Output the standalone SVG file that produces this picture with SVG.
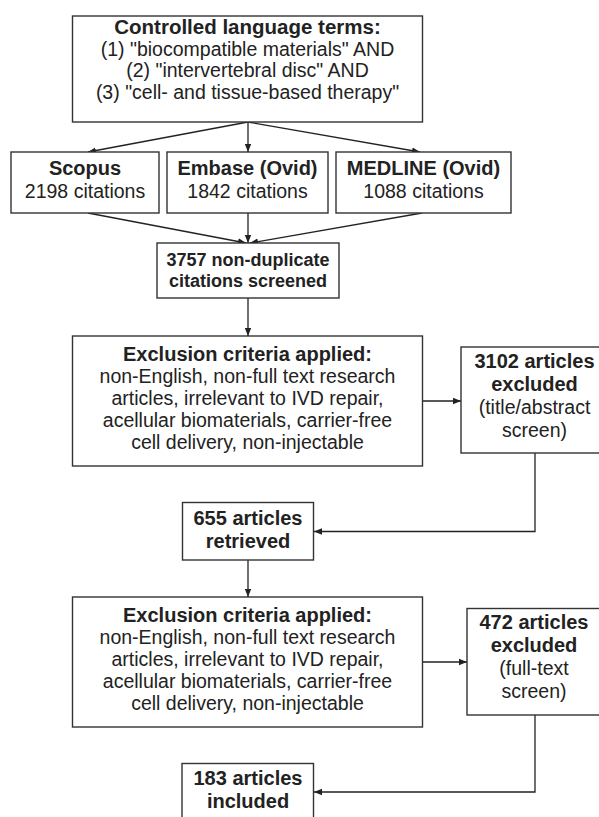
<svg xmlns="http://www.w3.org/2000/svg" width="599" height="817" viewBox="0 0 599 817">
<style>
.box{fill:#fff;stroke:#333;stroke-width:1.4}
.c{fill:none;stroke:#222;stroke-width:1.3}
text{font-family:"Liberation Sans",Arial,sans-serif;font-size:19.5px;fill:#222;text-anchor:middle}
.b{font-weight:bold;font-size:20px}
.s{font-size:18px;font-weight:bold}
</style>
<defs>
<marker id="ah" markerUnits="userSpaceOnUse" markerWidth="9" markerHeight="8" refX="8" refY="4" orient="auto">
<path d="M0,0.8 L8,4 L0,7.2 z" fill="#222"/>
</marker>
</defs>
<rect width="599" height="817" fill="#fff"/>
<g id="connectors">
<line class="c" x1="248" y1="122" x2="88" y2="152" marker-end="url(#ah)"/>
<line class="c" x1="248" y1="122" x2="248" y2="152" marker-end="url(#ah)"/>
<line class="c" x1="248" y1="122" x2="420" y2="152" marker-end="url(#ah)"/>
<line class="c" x1="88" y1="213" x2="246" y2="243" marker-end="url(#ah)"/>
<line class="c" x1="248" y1="213" x2="248" y2="243" marker-end="url(#ah)"/>
<line class="c" x1="422" y1="213" x2="250" y2="243" marker-end="url(#ah)"/>
<line class="c" x1="248" y1="298" x2="248" y2="336" marker-end="url(#ah)"/>
<line class="c" x1="423" y1="401" x2="461" y2="401" marker-end="url(#ah)"/>
<polyline class="c" points="535,453 535,531.5 314,531.5" marker-end="url(#ah)"/>
<line class="c" x1="248" y1="560" x2="248" y2="597" marker-end="url(#ah)"/>
<line class="c" x1="423" y1="662" x2="467" y2="662" marker-end="url(#ah)"/>
<polyline class="c" points="535,715 535,792 314,792" marker-end="url(#ah)"/>
</g>
<g id="terms">
<rect class="box" x="72.5" y="16" width="350" height="106"/>
<text class="b" x="247.5" y="34" style="font-size:20.5px">Controlled language terms:</text>
<text x="247.5" y="55.5">(1) "biocompatible materials" AND</text>
<text x="247.5" y="77">(2) "intervertebral disc" AND</text>
<text x="247.5" y="98.5">(3) "cell- and tissue-based therapy"</text>
</g>
<g id="scopus">
<rect class="box" x="11" y="152" width="148" height="61"/>
<text class="b" x="85" y="175">Scopus</text>
<text x="85" y="198">2198 citations</text>
</g>
<g id="embase">
<rect class="box" x="167" y="152" width="161" height="61"/>
<text class="b" x="247.5" y="175">Embase (Ovid)</text>
<text x="247.5" y="198">1842 citations</text>
</g>
<g id="medline">
<rect class="box" x="336" y="152" width="175" height="61"/>
<text class="b" x="423.5" y="175">MEDLINE (Ovid)</text>
<text x="423.5" y="198">1088 citations</text>
</g>
<g id="screened">
<rect class="box" x="157" y="243" width="182" height="55"/>
<text class="s" x="248" y="265.5">3757 non-duplicate</text>
<text class="s" x="248" y="287">citations screened</text>
</g>
<g id="exclusion1">
<rect class="box" x="72.5" y="336" width="350" height="130"/>
<text class="b" x="247.5" y="361">Exclusion criteria applied:</text>
<text x="247.5" y="383">non-English, non-full text research</text>
<text x="247.5" y="405">articles, irrelevant to IVD repair,</text>
<text x="247.5" y="427">acellular biomaterials, carrier-free</text>
<text x="247.5" y="449">cell delivery, non-injectable</text>
</g>
<g id="excluded1">
<rect class="box" x="461" y="347" width="148" height="106"/>
<text class="b" x="534.5" y="368">3102 articles</text>
<text class="b" x="534.5" y="391">excluded</text>
<text x="534.5" y="414">(title/abstract</text>
<text x="534.5" y="437">screen)</text>
</g>
<g id="retrieved">
<rect class="box" x="182.5" y="502.5" width="131" height="57.5"/>
<text class="b" x="248" y="525">655 articles</text>
<text class="b" x="248" y="548">retrieved</text>
</g>
<g id="exclusion2">
<rect class="box" x="72.5" y="597" width="350" height="130"/>
<text class="b" x="247.5" y="622">Exclusion criteria applied:</text>
<text x="247.5" y="644">non-English, non-full text research</text>
<text x="247.5" y="666">articles, irrelevant to IVD repair,</text>
<text x="247.5" y="688">acellular biomaterials, carrier-free</text>
<text x="247.5" y="710">cell delivery, non-injectable</text>
</g>
<g id="excluded2">
<rect class="box" x="467" y="608.5" width="134" height="106.5"/>
<text class="b" x="534" y="629">472 articles</text>
<text class="b" x="534" y="652">excluded</text>
<text x="534" y="675">(full-text</text>
<text x="534" y="698">screen)</text>
</g>
<g id="included">
<rect class="box" x="182" y="763.5" width="131.5" height="70"/>
<text class="b" x="248" y="785">183 articles</text>
<text class="b" x="248" y="808">included</text>
</g>
</svg>
